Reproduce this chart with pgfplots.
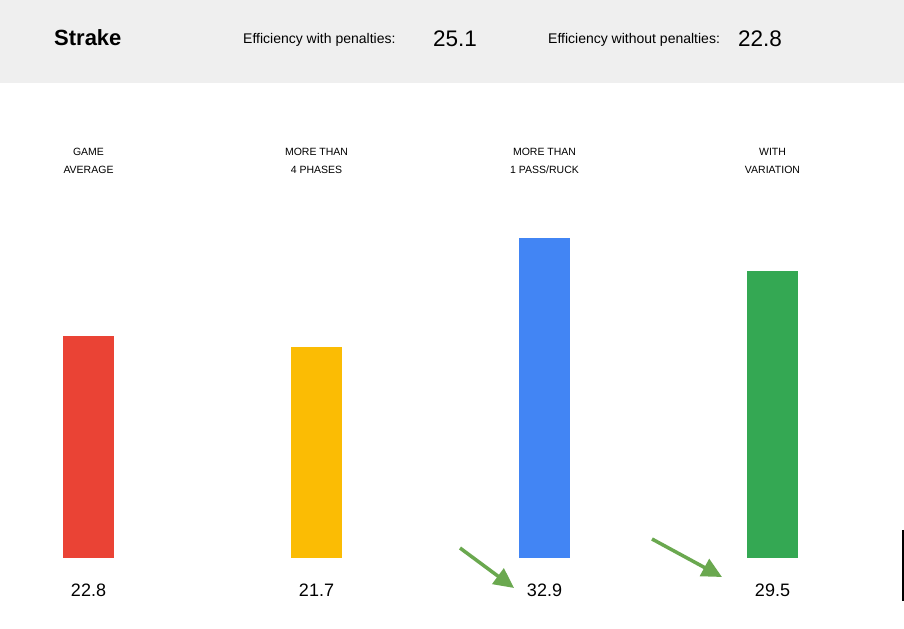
\documentclass[border=0pt]{standalone}
\usepackage{fontspec}
\setmainfont{Liberation Sans}
\usepackage{pgfplots}
\pgfplotsset{compat=1.18}
\usetikzlibrary{arrows.meta}
\definecolor{band}{HTML}{EFEFEF}
\definecolor{cred}{HTML}{EA4335}
\definecolor{cyellow}{HTML}{FBBC04}
\definecolor{cblue}{HTML}{4285F4}
\definecolor{cgreen}{HTML}{34A853}
\definecolor{carrow}{HTML}{6AA84F}
\newcommand{\fs}[1]{\fontsize{#1bp}{1.2\dimexpr#1bp\relax}\selectfont}
\begin{document}
\begin{tikzpicture}[x=1bp,y=1bp]
\fill[white] (0,0) rectangle (904,629);
\fill[band] (0,546) rectangle (904,629);
\node[anchor=base west,inner sep=0pt,font=\fs{22}\bfseries] at (54,583) {Strake};
\node[anchor=base west,inner sep=0pt,font=\fs{14}] at (243,585) {Efficiency with penalties:};
\node[anchor=base west,inner sep=0pt,font=\fs{22.5}] at (433,582) {25.1};
\node[anchor=base west,inner sep=0pt,font=\fs{14}] at (548,585) {Efficiency without penalties:};
\node[anchor=base west,inner sep=0pt,font=\fs{22.5}] at (738,582) {22.8};
\begin{axis}[
  at={(0bp,71bp)}, anchor=south west,
  scale only axis, width=904bp, height=475bp,
  xmin=-0.3882, xmax=3.5768, ymin=0, ymax=48.8,
  hide axis, clip=false,
  ybar, bar width=51bp, bar shift=0pt,
]
\addplot[fill=cred, draw=none] coordinates {(0,22.8)};
\addplot[fill=cyellow, draw=none] coordinates {(1,21.7)};
\addplot[fill=cblue, draw=none] coordinates {(2,32.9)};
\addplot[fill=cgreen, draw=none] coordinates {(3,29.5)};
\addplot[draw=none, mark=none, nodes near coords, point meta=explicit symbolic,
  every node near coord/.style={anchor=base, inner sep=0pt, font=\fs{18}, text=black}]
  coordinates {(0,-3.98)[22.8] (1,-3.98)[21.7] (2,-3.98)[32.9] (3,-3.98)[29.5]};
\node[anchor=base,inner sep=0pt,font=\fs{10.5}] at (axis cs:0,41.40) {GAME};
\node[anchor=base,inner sep=0pt,font=\fs{10.5}] at (axis cs:0,39.45) {AVERAGE};
\node[anchor=base,inner sep=0pt,font=\fs{10.5}] at (axis cs:1,41.40) {MORE THAN};
\node[anchor=base,inner sep=0pt,font=\fs{10.5}] at (axis cs:1,39.45) {4 PHASES};
\node[anchor=base,inner sep=0pt,font=\fs{10.5}] at (axis cs:2,41.40) {MORE THAN};
\node[anchor=base,inner sep=0pt,font=\fs{10.5}] at (axis cs:2,39.45) {1 PASS/RUCK};
\node[anchor=base,inner sep=0pt,font=\fs{10.5}] at (axis cs:3,41.40) {WITH};
\node[anchor=base,inner sep=0pt,font=\fs{10.5}] at (axis cs:3,39.45) {VARIATION};
\end{axis}
\draw[carrow, line width=3.5bp, -{Triangle[length=20bp,width=19bp]}] (460,81) -- (514,41);
\draw[carrow, line width=3.5bp, -{Triangle[length=20bp,width=19bp]}] (652,90) -- (722,52);
\draw[black, line width=2bp] (902.5,99) -- (902.5,28);
\end{tikzpicture}
\end{document}
